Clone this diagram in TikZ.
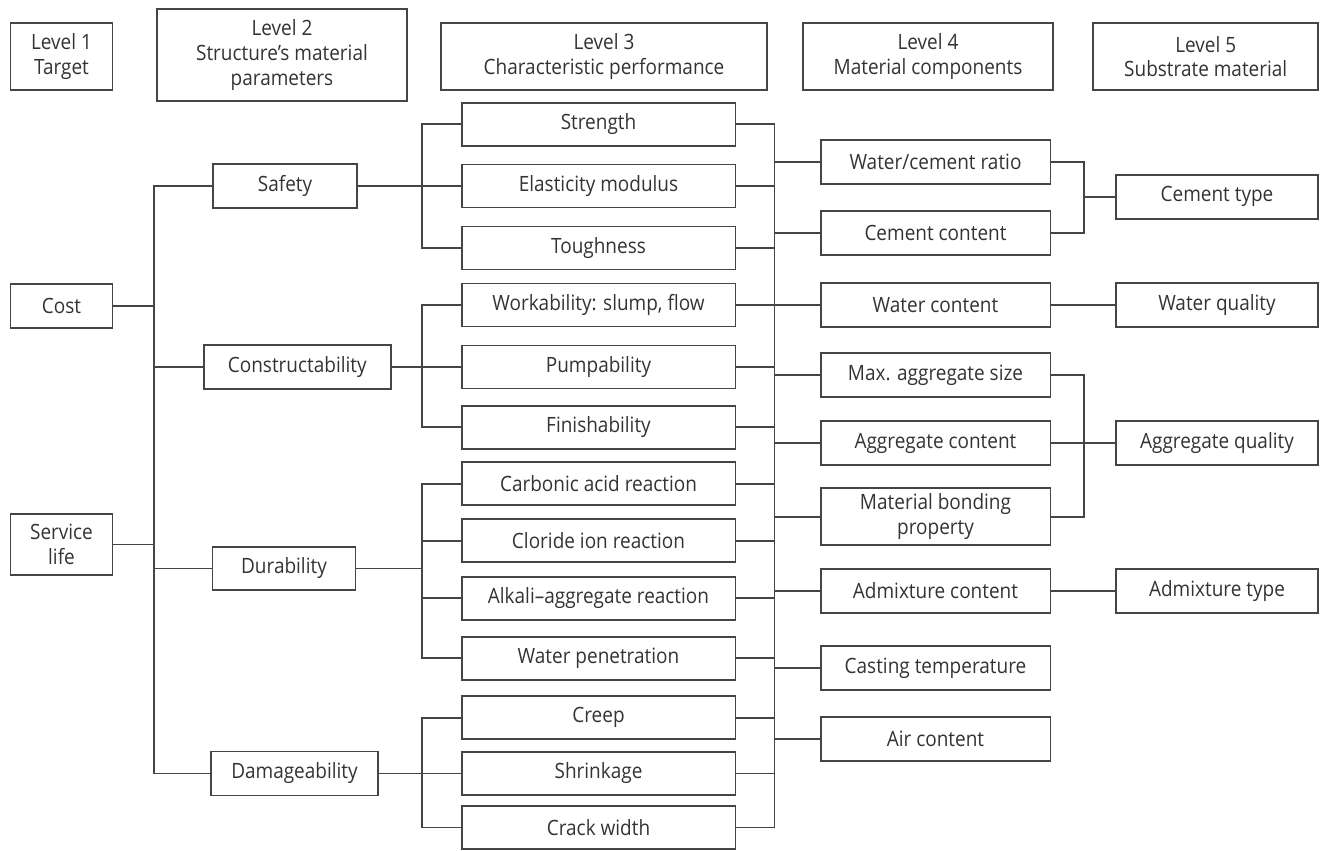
\documentclass[tikz,border=0pt]{standalone}
\usepackage{fontspec}
\setmainfont{Open Sans}[FakeStretch=0.9]
\usetikzlibrary{positioning}
\definecolor{ink}{HTML}{333333}
\definecolor{edgegray}{HTML}{454545}
\tikzset{
  lvlbox/.style={draw=edgegray,line width=1.1pt,inner sep=0pt,align=center,text=ink,
    font=\fontsize{12}{14}\selectfont},
  perf/.style={lvlbox,minimum width=5.48cm,minimum height=0.86cm},
  comp/.style={lvlbox,minimum width=4.6cm,minimum height=0.88cm},
  subs/.style={lvlbox,minimum width=4.04cm,minimum height=0.88cm},
  link/.style={draw=edgegray,line width=1.1pt}
}

\begin{document}
\begin{tikzpicture}[x=0.02cm,y=-0.02cm]
  \useasboundingbox (0,0) rectangle (1321,851);

  % Headers
  \node[lvlbox,minimum width=2.04cm,minimum height=1.34cm] (lvA) at (61.5,56.5) {Level 1\\Target};
  \node[lvlbox,minimum width=5cm,minimum height=1.84cm] (lvB) at (282,55) {Level 2\\Structure’s material\\parameters};
  \node[lvlbox,minimum width=6.52cm,minimum height=1.34cm] (lvC) at (604,56.5) {Level 3\\Characteristic performance};
  \node[lvlbox,minimum width=5cm,minimum height=1.34cm] (lvD) at (928,56.5) {Level 4\\Material components};
  \node[lvlbox,minimum width=4.5cm,minimum height=1.34cm] (lvE) at (1205.75,56.5) {Level 5\\Substrate material};

  % Level 1
  \node[lvlbox,minimum width=2.04cm,minimum height=0.88cm] (cost) at (61.5,306) {Cost};
  \node[lvlbox,minimum width=2.04cm,minimum height=1.22cm] (life) at (61.5,544.5) {Service\\life};

  % Level 2
  \node[lvlbox,minimum width=2.88cm,minimum height=0.88cm] (safety) at (285,186) {Safety};
  \node[lvlbox,minimum width=3.74cm,minimum height=0.88cm] (constr) at (297.3,367) {Constructability};
  \node[lvlbox,minimum width=2.86cm,minimum height=0.86cm] (durab) at (284,568.5) {Durability};
  \node[lvlbox,minimum width=3.34cm,minimum height=0.88cm] (damage) at (294.5,773.5) {Damageability};

  % Level 3
  \node[perf] (strength) at (598.5,124.3) {Strength};
  \node[perf] (elast) at (598.5,186) {Elasticity modulus};
  \node[perf] (tough) at (598.5,248) {Toughness};
  \node[perf] (work) at (598.5,305) {Workability: slump, flow};
  \node[perf] (pump) at (598.5,367) {Pumpability};
  \node[perf] (finish) at (598.5,427.3) {Finishability};
  \node[perf] (carbon) at (598.5,483.7) {Carbonic acid reaction};
  \node[perf] (chloride) at (598.5,540.7) {Cloride ion reaction};
  \node[perf] (alkali) at (598.5,598.3) {Alkali–aggregate reaction};
  \node[perf] (waterpen) at (598.5,658.3) {Water penetration};
  \node[perf] (creep) at (598.5,717.7) {Creep};
  \node[perf] (shrink) at (598.5,773.5) {Shrinkage};
  \node[perf] (crack) at (598.5,827.5) {Crack width};

  % Level 4
  \node[comp] (wc) at (935.5,162) {Water/cement ratio};
  \node[comp] (cemcont) at (935.5,233) {Cement content};
  \node[comp] (watcont) at (935.5,305) {Water content};
  \node[comp] (maxagg) at (935.5,375.3) {Max. aggregate size};
  \node[comp] (aggcont) at (935.5,443.3) {Aggregate content};
  \node[comp,minimum height=1.14cm] (bonding) at (935.5,516.7) {Material bonding\\property};
  \node[comp] (admcont) at (935.5,591) {Admixture content};
  \node[comp] (casting) at (935.5,668.3) {Casting temperature};
  \node[comp] (air) at (935.5,738.7) {Air content};

  % Level 5
  \node[subs] (cemtype) at (1217,196.7) {Cement type};
  \node[subs] (watq) at (1217,305) {Water quality};
  \node[subs] (aggq) at (1217,443.3) {Aggregate quality};
  \node[subs] (admtype) at (1217,591) {Admixture type};

  % Bus lines
  \coordinate (trunk) at (153.6,0);
  \coordinate (lbus) at (422,0);
  \coordinate (rbus) at (774.5,0);
  \coordinate (sbus) at (1084.2,0);

  % Level 1 to Level 2
  \draw[link] (safety.west) -- (safety.west -| trunk) -- (damage.west -| trunk) -- (damage.west);
  \foreach \n in {cost,life}
    \draw[link] (\n.east) -- (\n.east -| trunk);
  \foreach \n in {constr,durab}
    \draw[link] (\n.west) -- (\n.west -| trunk);

  % Level 2 to Level 3
  \draw[link] (strength.west) -- (strength.west -| lbus) -- (tough.west -| lbus) -- (tough.west);
  \draw[link] (safety.east) -- (elast.west);
  \draw[link] (work.west) -- (work.west -| lbus) -- (finish.west -| lbus) -- (finish.west);
  \draw[link] (constr.east) -- (pump.west);
  \draw[link] (carbon.west) -- (carbon.west -| lbus) -- (waterpen.west -| lbus) -- (waterpen.west);
  \foreach \n in {chloride,alkali}
    \draw[link] (\n.west) -- (\n.west -| lbus);
  \draw[link] (durab.east) -- (durab.east -| lbus);
  \draw[link] (creep.west) -- (creep.west -| lbus) -- (crack.west -| lbus) -- (crack.west);
  \draw[link] (damage.east) -- (shrink.west);

  % Level 3 to Level 4
  \draw[link] (strength.east -| rbus) -- (crack.east -| rbus);
  \foreach \n in {strength,elast,tough,work,pump,finish,carbon,chloride,alkali,waterpen,creep,shrink,crack}
    \draw[link] (\n.east) -- (\n.east -| rbus);
  \foreach \n in {wc,cemcont,watcont,maxagg,aggcont,bonding,admcont,casting,air}
    \draw[link] (\n.west) -- (\n.west -| rbus);

  % Level 4 to Level 5
  \draw[link] (wc.east) -- (wc.east -| sbus) -- (cemcont.east -| sbus) -- (cemcont.east);
  \draw[link] (cemtype.west) -- (cemtype.west -| sbus);
  \draw[link] (watcont.east) -- (watq.west);
  \draw[link] (maxagg.east) -- (maxagg.east -| sbus) -- (bonding.east -| sbus) -- (bonding.east);
  \draw[link] (aggcont.east) -- (aggq.west);
  \draw[link] (admcont.east) -- (admtype.west);
\end{tikzpicture}
\end{document}
